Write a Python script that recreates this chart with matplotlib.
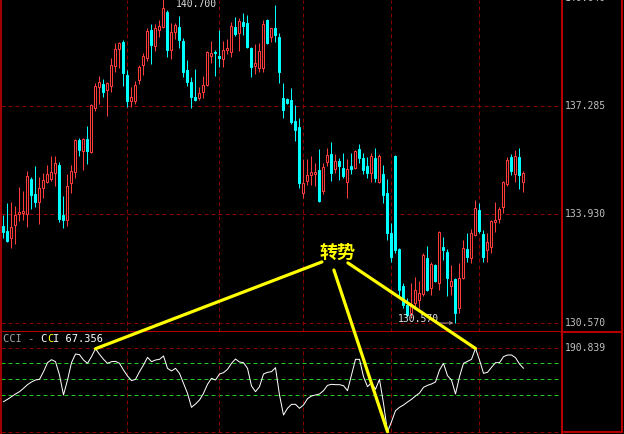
import matplotlib
matplotlib.use("Agg")
import matplotlib.pyplot as plt
from matplotlib.patches import ConnectionPatch
import numpy as np

# ---------------- data ----------------
opens = [133.57, 133.42, 133.20, 133.60, 133.94, 133.97, 133.94, 135.03, 134.56, 134.31,
         134.75, 134.93, 135.03, 135.21, 135.46, 133.91, 133.76, 134.90, 135.24, 136.23,
         135.89, 136.26, 135.86, 137.22, 137.87, 137.97, 137.78, 137.90, 138.52, 139.05,
         139.27, 138.24, 137.44, 137.44, 138.09, 138.55, 138.77, 139.64, 139.14, 139.64,
         139.73, 140.19, 139.02, 139.57, 139.73, 139.30, 138.40, 138.03, 137.56, 137.53,
         137.72, 137.93, 138.83, 138.96, 138.83, 138.74, 139.02, 138.96, 139.73, 139.54,
         139.88, 139.85, 139.08, 138.52, 138.46, 138.46, 139.95, 139.42, 139.70, 139.42,
         137.53, 137.50, 137.47, 136.82, 136.64, 134.59, 134.96, 135.15, 135.18, 135.30,
         134.66, 135.55, 135.80, 135.34, 135.58, 135.37, 134.93, 135.43, 135.37, 135.95,
         135.67, 135.43, 135.21, 135.67, 134.93, 135.18, 134.59, 133.36, 135.74, 132.86,
         131.72, 131.13, 130.88, 131.19, 131.28, 131.47, 132.58, 131.65, 132.37, 131.81,
         132.92, 132.77, 131.72, 131.93, 131.03, 131.96, 132.86, 132.58, 133.29, 134.07,
         133.32, 132.83, 132.92, 133.70, 133.79, 134.16, 134.87, 135.71, 135.18, 135.71,
         134.93]
highs = [133.91, 134.28, 134.31, 134.19, 134.78, 134.66, 135.27, 135.09, 135.43, 135.09,
         135.21, 135.46, 135.74, 135.74, 135.55, 134.50, 135.18, 135.46, 136.26, 136.29,
         136.29, 136.67, 137.35, 138.00, 138.21, 138.12, 138.03, 138.77, 139.23, 139.27,
         139.33, 138.40, 137.87, 138.06, 138.55, 138.93, 139.70, 139.82, 139.82, 139.95,
         140.70, 140.26, 139.85, 139.85, 140.07, 139.39, 138.71, 138.18, 138.43, 137.87,
         138.21, 138.99, 139.30, 139.02, 139.64, 139.30, 139.36, 139.88, 140.04, 140.01,
         140.16, 140.10, 139.11, 139.20, 139.23, 139.95, 139.98, 139.70, 140.41, 139.54,
         138.00, 137.53, 137.84, 137.32, 136.91, 135.64, 135.64, 135.74, 135.52, 135.95,
         135.52, 135.98, 136.17, 135.80, 135.67, 135.83, 135.64, 135.83, 135.92, 136.11,
         135.83, 135.71, 135.83, 135.98, 135.80, 135.46, 135.03, 133.66, 135.77, 132.89,
         131.81, 131.34, 131.81, 132.00, 131.87, 132.74, 132.95, 132.46, 132.40, 133.42,
         133.23, 132.86, 132.37, 131.96, 132.43, 133.14, 133.36, 133.48, 134.38, 134.28,
         133.45, 133.36, 133.76, 134.31, 134.16, 134.96, 135.71, 135.80, 135.92, 135.98,
         135.27]
lows = [133.20, 133.08, 132.89, 133.02, 133.73, 133.76, 133.54, 134.10, 134.16, 133.63,
        134.44, 134.90, 134.96, 134.81, 133.70, 133.51, 133.57, 134.59, 135.06, 135.74,
        135.30, 135.49, 135.83, 137.13, 137.35, 137.56, 136.97, 137.72, 138.34, 138.46,
        137.90, 137.25, 137.25, 137.35, 137.97, 138.24, 138.68, 138.58, 138.99, 139.42,
        139.70, 138.80, 138.74, 139.36, 139.08, 138.18, 137.90, 137.22, 137.44, 137.47,
        137.53, 137.90, 138.62, 138.21, 138.49, 138.49, 138.89, 138.80, 139.45, 138.99,
        139.48, 139.08, 138.18, 138.28, 138.34, 138.34, 139.20, 139.27, 139.27, 138.00,
        136.91, 137.35, 136.73, 136.20, 134.75, 134.44, 134.84, 134.84, 134.81, 134.31,
        134.56, 135.43, 134.96, 135.21, 135.00, 135.06, 134.44, 135.18, 135.34, 135.52,
        135.18, 135.06, 134.93, 134.93, 134.90, 134.28, 133.14, 132.46, 132.74, 131.38,
        131.03, 130.76, 130.73, 131.06, 131.03, 131.41, 131.56, 131.44, 131.84, 131.59,
        132.52, 131.41, 131.44, 130.57, 130.88, 131.93, 132.46, 132.43, 133.26, 133.36,
        132.46, 132.46, 132.74, 133.39, 133.66, 133.97, 134.81, 135.15, 134.93, 134.72,
        134.63]
closes = [133.39, 133.11, 133.54, 133.91, 134.01, 134.04, 135.12, 134.53, 134.31, 134.75,
          135.00, 135.18, 135.24, 135.52, 133.79, 133.76, 134.81, 135.27, 136.23, 135.92,
          136.26, 135.89, 137.32, 137.90, 138.03, 137.72, 138.00, 138.55, 139.05, 139.23,
          138.31, 137.44, 137.56, 137.93, 138.49, 138.83, 139.61, 139.17, 139.70, 139.76,
          140.32, 139.02, 139.57, 139.79, 139.33, 138.34, 138.03, 137.56, 137.47, 137.69,
          137.93, 138.96, 138.93, 138.93, 138.77, 139.02, 139.08, 139.76, 139.51, 139.92,
          139.76, 139.11, 138.49, 138.62, 138.99, 139.82, 139.23, 139.70, 139.48, 138.34,
          137.16, 137.38, 136.79, 136.54, 134.90, 134.90, 135.15, 135.24, 135.24, 134.35,
          135.40, 135.77, 135.21, 135.58, 135.43, 135.12, 135.34, 135.34, 135.89, 135.67,
          135.30, 135.21, 135.74, 135.06, 135.74, 134.53, 133.36, 132.61, 132.83, 131.59,
          131.13, 130.82, 131.16, 131.59, 131.50, 132.67, 131.59, 132.40, 131.87, 133.39,
          132.83, 131.96, 131.87, 130.88, 131.96, 132.89, 132.61, 133.36, 134.13, 133.42,
          132.61, 133.08, 133.73, 133.76, 134.10, 134.93, 135.61, 135.27, 135.74, 135.15,
          135.21]
cci = [-141.7, -127.1, -110.4, -93.7, -79.2, -58.3, -35.4, -18.7, -6.2, -2.1,
       45.8, 102.1, 120.8, 108.3, 25.0, -100.0, -6.2, 102.1, 156.2, 152.1,
       118.7, 97.9, 139.6, 189.2, 154.2, 122.9, 97.9, 108.3, 110.4, 97.9,
       56.2, 18.7, -10.4, -2.1, 45.8, 87.5, 135.4, 108.3, 118.7, 122.9,
       143.7, 66.7, 50.0, 66.7, 35.4, -27.1, -89.6, -177.1, -156.2, -131.2,
       -89.6, -33.3, 4.2, -6.2, 31.2, 39.6, 60.4, 97.9, 125.0, 106.2,
       102.1, 66.7, -43.7, -79.2, -47.9, 31.2, 41.7, 45.8, 70.8, -100.0,
       -225.0, -183.3, -158.3, -158.3, -183.3, -162.5, -122.9, -106.2, -100.0, -93.7,
       -72.9, -39.6, -33.3, -35.4, -35.4, -41.7, -72.9, 25.0, 122.9, 122.9,
       14.6, -47.9, -22.9, -64.6, -2.1, -152.1, -329.2, -266.7, -197.9, -177.1,
       -162.5, -143.7, -127.1, -106.2, -87.5, -52.1, -39.6, -31.2, -18.7, 56.2,
       97.9, 20.8, -6.2, -93.7, 14.6, 97.9, 110.4, 122.9, 190.839, 118.7,
       35.4, 41.7, 72.9, 102.1, 102.1, 139.6, 150.0, 150.0, 133.3, 93.7,
       67.356]

price_levels = [130.570, 133.930, 137.285, 140.640]
cci_levels = [100, 0, -100]
grid_bars = [31, 54, 75, 97, 119]
indicator_name = "CCI"
turn_text = "转势"
turn_text_pos = (83.4, 132.77)
turn_line_starts = [(79.6, 132.46), (82.6, 132.21), (86.1, 132.43)]
turn_line_targets = [23, 96, 118]

# ---------------- styling ----------------
RED = "#ff3c3c"
CYAN = "#00ffff"
GRID = "#8c0000"
FRAME = "#b40000"
GREEN = "#22cc22"
LABEL = "#c0c0c0"
YELLOW = "#ffff00"
MONO = "DejaVu Sans Mono"
PX = 0.72  # one pixel in points at dpi 100

W, H = 624, 434
fig = plt.figure(figsize=(W / 100, H / 100), dpi=100, facecolor="black")


def px_rect(x0, y0, x1, y1):
    return [x0 / W, 1 - y1 / H, (x1 - x0) / W, (y1 - y0) / H]


ax = fig.add_axes(px_rect(1, 0, 562, 332))
cax = fig.add_axes(px_rect(1, 332, 562, 434))
lab1 = fig.add_axes(px_rect(562, 0, 622, 332))
lab2 = fig.add_axes(px_rect(562, 332, 622, 432))

n = len(opens)
idx = np.arange(n)
o = np.array(opens)
h = np.array(highs)
l = np.array(lows)
c = np.array(closes)
cc = np.array(cci)

for a in (ax, cax):
    a.set_facecolor("black")
    a.set_xlim(-0.625, 139.625)
    a.set_xticks([])
    a.set_yticks([])
    for s in a.spines.values():
        s.set_color(FRAME)
        s.set_linewidth(1.5)
    a.spines["top"].set_visible(False)
cax.spines["bottom"].set_visible(False)
ax.spines["left"].set_color("#a00000")
cax.spines["left"].set_color("#a00000")

for a in (lab1, lab2):
    a.set_facecolor("none")
    a.set_xticks([])
    a.set_yticks([])
    for s in a.spines.values():
        s.set_color(FRAME)
        s.set_linewidth(1.5)
    a.spines["left"].set_visible(False)
    a.spines["top"].set_visible(False)

ax.set_ylim(130.2917, 140.565)
cax.set_ylim(-343.75, 293.75)

# ---------------- grids ----------------
for lv in price_levels:
    ax.axhline(lv, color=GRID, lw=PX, dashes=(4, 3), zorder=1)
for k in grid_bars:
    ax.axvline(k, color=GRID, lw=PX, dashes=(4, 3), zorder=1)

cmax, cmin = cc.max(), cc.min()
for lv in (cmax, cmin):
    cax.axhline(lv, color=GRID, lw=PX, dashes=(4, 3), zorder=1)
for lv in cci_levels:
    cax.axhline(lv, color=GREEN, lw=PX, dashes=(4, 3), zorder=1)
for k in grid_bars:
    cax.plot([k, k], [cmin, cmax], color=GRID, lw=PX, dashes=(4, 3), zorder=1)

# ---------------- candles ----------------
up = c >= o
edge = np.where(up, RED, CYAN)
face = np.where(up, "black", CYAN)
ax.vlines(idx, l, h, colors=edge, lw=PX, zorder=2)
ax.bar(idx, np.abs(c - o), bottom=np.minimum(o, c), width=0.5,
       color=face, edgecolor=edge, linewidth=PX, zorder=3)

# high / low markers
khi = int(np.argmax(h))
klo = int(np.argmin(l))
ax.annotate(f"{h[khi]:.3f}", xy=(khi, h[khi]), xytext=(12.5, -3.4),
            textcoords="offset pixels", ha="left", va="top", color="#e0e0e0",
            fontsize=7, family=MONO, annotation_clip=False)
ax.annotate(f"{l[klo]:.3f}", xy=(klo, l[klo]), xytext=(-16.5, 1.5),
            textcoords="offset pixels", ha="right", va="baseline", color="#e0e0e0",
            fontsize=7, family=MONO)
ax.annotate("", xy=(klo - 0.6, l[klo]), xytext=(klo - 3.9, l[klo]),
            arrowprops=dict(arrowstyle="->", color="#b0b0b0", lw=0.6,
                            shrinkA=0, shrinkB=0, mutation_scale=5))

# ---------------- CCI ----------------
cax.plot(idx, cc, color="white", lw=PX, zorder=3)

# ---------------- labels ----------------
for lv in price_levels:
    ax.annotate(f"{lv:.3f}", xy=(1, lv), xycoords=("axes fraction", "data"),
                xytext=(3, 0), textcoords="offset pixels", ha="left", va="center",
                color=LABEL, fontsize=7, family=MONO, annotation_clip=False)
cax.annotate(f"{cmax:.3f}", xy=(1, cmax), xycoords=("axes fraction", "data"),
             xytext=(3, 0), textcoords="offset pixels", ha="left", va="center",
             color=LABEL, fontsize=7, family=MONO, annotation_clip=False)

fs = 7.5
cw = 0.602 * fs * 100 / 72
parts = [(f"{indicator_name} - ", "#a0a0a0"), ("C", "white"), ("C", YELLOW),
         (f"I {cc[-1]:.3f}", "white")]
pos = 0
for txt, col in parts:
    cax.annotate(txt, xy=(0, 1), xycoords="axes fraction",
                 xytext=(2 + pos * cw, -7.5), textcoords="offset pixels",
                 ha="left", va="center", color=col, fontsize=fs, family=MONO)
    pos += len(txt)

# ---------------- turn annotation ----------------
ax.text(turn_text_pos[0], turn_text_pos[1], turn_text, color=YELLOW, fontsize=13,
        ha="center", va="center", fontweight="bold",
        family=["Noto Sans CJK SC", "DejaVu Sans"], zorder=6)
for (xa, ya), kb in zip(turn_line_starts, turn_line_targets):
    con = ConnectionPatch(xyA=(xa, ya), coordsA=ax.transData,
                          xyB=(kb, cc[kb]), coordsB=cax.transData,
                          color=YELLOW, lw=2.3, zorder=10)
    fig.add_artist(con)

fig.savefig("out.png", dpi=100, facecolor="black")
